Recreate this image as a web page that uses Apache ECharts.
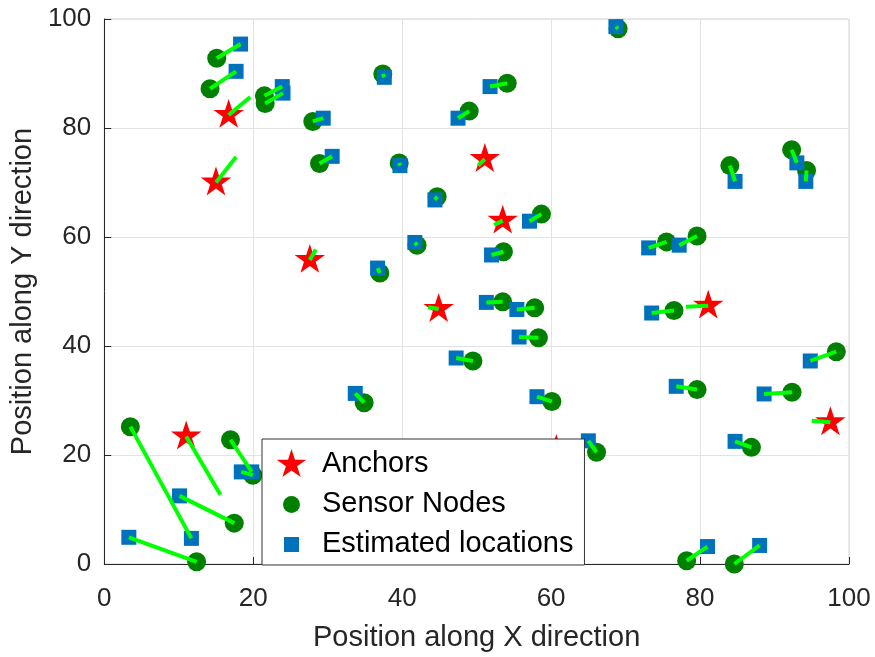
<!DOCTYPE html>
<html>
<head>
<meta charset="utf-8">
<script src="https://cdn.jsdelivr.net/npm/echarts@6/dist/echarts.min.js"></script>
<style>
html,body{margin:0;padding:0;background:#fff;}
#chart{width:875px;height:657px;}
</style>
</head>
<body>
<div id="chart"></div>
<script>
// ---- Data ----
const anchorX    = [16.7, 15.0, 27.6, 51.1, 53.5, 44.9, 81.1, 11.0, 97.5, 60.7];
const anchorY    = [82.4, 70.0, 55.8, 74.3, 63.0, 46.8, 47.4, 23.4, 26.0, 20.9];
const anchorEstX = [19.6, 17.7, 28.4, 50.2, 52.35, 43.5, 78.1, 15.6, 95.0, 60.0];
const anchorEstY = [85.7, 74.7, 57.7, 73.1, 62.2, 47.1, 47.2, 12.7, 26.3, 20.0];

const nodeX = [15.1, 14.2, 21.5, 21.6, 28.0, 28.9, 37.4, 54.1, 49.0, 39.6,
               44.7, 69.0, 84.0, 92.3, 94.3, 58.7, 42.0, 53.6, 37.0, 53.5,
               57.8, 58.3, 49.5, 34.9, 60.1, 75.5, 79.6, 76.5, 98.3, 79.6,
               92.35, 3.5, 16.95, 19.95, 17.45, 12.4, 66.1, 86.9, 78.2, 84.6];
const nodeY = [92.8, 87.2, 85.9, 84.5, 81.2, 73.5, 89.9, 88.2, 83.1, 73.6,
               67.4, 98.2, 73.1, 76.0, 72.2, 64.2, 58.5, 57.3, 53.4, 48.1,
               47.0, 41.5, 37.25, 29.6, 29.8, 59.1, 60.2, 46.5, 38.95, 32.0,
               31.5, 25.2, 22.8, 16.3, 7.5, 0.4, 20.5, 21.4, 0.6, 0.0];
const estX  = [18.3, 17.7, 23.9, 24.0, 29.4, 30.6, 37.6, 51.8, 47.5, 39.7,
               44.4, 68.7, 84.7, 93.0, 94.2, 57.1, 41.7, 52.0, 36.7, 51.3,
               55.4, 55.7, 47.25, 33.7, 58.1, 73.1, 77.2, 73.5, 94.8, 76.8,
               88.6, 11.7, 19.8, 18.4, 10.1, 3.3, 65.0, 84.7, 81.0, 88.0];
const estY  = [95.4, 90.4, 87.6, 86.4, 81.8, 74.8, 89.3, 87.6, 81.8, 73.1,
               66.8, 98.6, 70.2, 73.6, 70.2, 62.9, 59.0, 56.7, 54.3, 48.0,
               46.7, 41.65, 37.8, 31.3, 30.7, 58.0, 58.5, 46.05, 37.25, 32.6,
               31.2, 4.7, 16.9, 16.9, 12.5, 4.9, 22.6, 22.5, 3.2, 3.4];

const xTicks = [0, 20, 40, 60, 80, 100];
const yTicks = [0, 20, 40, 60, 80, 100];
const legendNames = ['Anchors', 'Sensor Nodes', 'Estimated locations'];

// ---- Build series data ----
const anchorData = anchorX.map((x, i) => [x, anchorY[i]]);
const nodeData = nodeX.map((x, i) => [x, nodeY[i]]);
const estData = estX.map((x, i) => [x, estY[i]]);
const segData = nodeX.map((x, i) => [x, nodeY[i], estX[i], estY[i]])
  .concat(anchorX.map((x, i) => [x, anchorY[i], anchorEstX[i], anchorEstY[i]]));

const starShape = 'M50 0 L61.23 34.55 L97.55 34.55 L68.17 55.9 L79.39 90.45 L50 69.1 L20.61 90.45 L31.83 55.9 L2.45 34.55 L38.77 34.55 Z';
const starPath = 'path://M50 100 M' + starShape.slice(1);
// legend icons: bounding box 132.26 x 100 (matches 41 x 31 icon box), shape centred at x=50
const starIcon = 'path://M0 0 M132.26 100 M' + starShape.slice(1);
const circleIcon = 'path://M0 0 M132.26 100 M77.4 50 A27.4 27.4 0 1 1 22.6 50 A27.4 27.4 0 1 1 77.4 50 Z';
const squareIcon = 'path://M0 0 M132.26 100 M25.8 25.8 L74.2 25.8 L74.2 74.2 L25.8 74.2 Z';

const FONT = '"Liberation Sans", Arial, Helvetica, sans-serif';
const chart = echarts.init(document.getElementById('chart'), null, {renderer: 'canvas'});

chart.setOption({
  animation: false,
  backgroundColor: '#ffffff',
  grid: {left: 104, right: 26, top: 19, bottom: 92, show: true, borderColor: '#d4d4d4', borderWidth: 1, backgroundColor: 'transparent'},
  xAxis: {
    type: 'value', min: xTicks[0], max: xTicks[xTicks.length - 1], interval: xTicks[1] - xTicks[0],
    name: 'Position along X direction', nameLocation: 'middle', nameGap: 59,
    nameTextStyle: {fontSize: 29, color: '#262626', fontFamily: FONT},
    axisLine: {show: true, onZero: false, lineStyle: {color: '#262626', width: 1}},
    axisTick: {show: true, inside: true, length: 7, lineStyle: {color: '#262626'}},
    axisLabel: {fontSize: 26, color: '#262626', fontFamily: FONT, margin: 22},
    splitLine: {show: true, lineStyle: {color: '#e3e3e3', width: 1}}
  },
  yAxis: {
    type: 'value', min: yTicks[0], max: yTicks[yTicks.length - 1], interval: yTicks[1] - yTicks[0],
    name: 'Position along Y direction', nameLocation: 'middle', nameGap: 64,
    nameTextStyle: {fontSize: 29, color: '#262626', fontFamily: FONT},
    axisLine: {show: true, onZero: false, lineStyle: {color: '#262626', width: 1}},
    axisTick: {show: true, inside: true, length: 7, lineStyle: {color: '#262626'}},
    axisLabel: {fontSize: 26, color: '#262626', fontFamily: FONT, margin: 13},
    splitLine: {show: true, lineStyle: {color: '#e3e3e3', width: 1}}
  },
  legend: {
    show: true, orient: 'vertical', left: 262, top: 439,
    itemWidth: 41, itemHeight: 31, itemGap: 9,
    padding: [10, 11, 5, 14],
    backgroundColor: '#ffffff', borderColor: '#333333', borderWidth: 1, borderRadius: 0,
    z: 20,
    textStyle: {fontSize: 29, color: '#000000', fontFamily: FONT},
    data: [
      {name: legendNames[0], icon: starIcon},
      {name: legendNames[1], icon: circleIcon},
      {name: legendNames[2], icon: squareIcon}
    ]
  },
  series: [
    {
      name: legendNames[0], type: 'scatter', data: anchorData, z: 4,
      symbol: starPath, symbolSize: 32, symbolKeepAspect: true, clip: false,
      itemStyle: {color: '#ff0000', opacity: 1}, silent: true
    },
    {
      name: legendNames[1], type: 'scatter', data: nodeData, z: 2,
      symbol: 'circle', symbolSize: 19, clip: false,
      itemStyle: {color: '#007f00', opacity: 1}, silent: true
    },
    {
      name: legendNames[2], type: 'scatter', data: estData, z: 3,
      symbol: 'rect', symbolSize: 15, clip: false,
      itemStyle: {color: '#0072bd', opacity: 1}, silent: true
    },
    {
      name: 'links', type: 'custom', z: 5, silent: true, clip: false,
      encode: {x: [0, 2], y: [1, 3]},
      data: segData,
      renderItem: function (params, api) {
        const p1 = api.coord([api.value(0), api.value(1)]);
        const p2 = api.coord([api.value(2), api.value(3)]);
        return {
          type: 'line',
          shape: {x1: p1[0], y1: p1[1], x2: p2[0], y2: p2[1]},
          style: {stroke: '#00ff00', lineWidth: 4, lineCap: 'butt'}
        };
      }
    }
  ]
});
</script>
</body>
</html>
